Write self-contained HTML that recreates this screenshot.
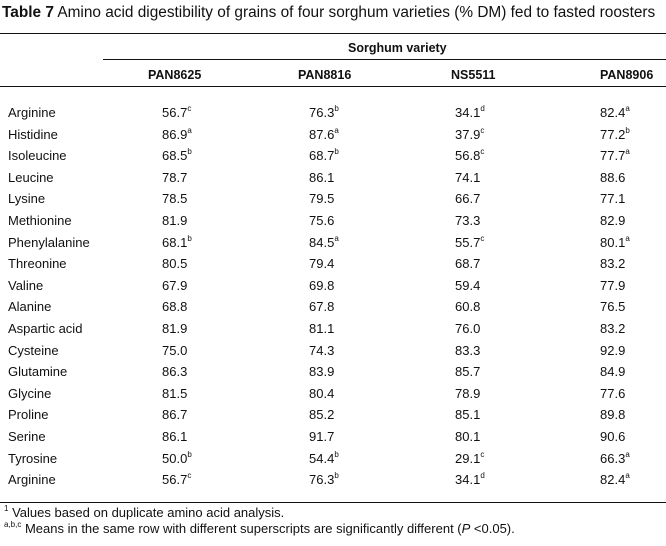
<!DOCTYPE html>
<html><head><style>
body{margin:0;width:666px;height:546px;background:#fff;position:relative;overflow:hidden;font-family:"Liberation Sans",Arial,sans-serif;color:#111}
.a{position:absolute;white-space:nowrap;font-size:13px;line-height:16px}
.b{font-weight:bold;font-size:12.5px}
.l{position:absolute;height:1.3px;background:#111}
sup{font-size:8px;line-height:0;vertical-align:6px}
</style></head><body>
<div class="a" style="left:2px;top:4px;font-size:15.4px;line-height:18px"><b>Table 7</b> Amino acid digestibility of grains of four sorghum varieties (% DM) fed to fasted roosters</div>
<div class="l" style="left:0;top:33px;width:666px"></div>
<div class="l" style="left:103px;top:59px;width:563px"></div>
<div class="l" style="left:0;top:86px;width:666px"></div>
<div class="l" style="left:0;top:502px;width:666px"></div>
<div class="a b" style="left:348px;top:40px">Sorghum variety</div>
<div class="a b" style="left:148px;top:67px">PAN8625</div>
<div class="a b" style="left:298px;top:67px">PAN8816</div>
<div class="a b" style="left:451px;top:67px">NS5511</div>
<div class="a b" style="left:600px;top:67px">PAN8906</div>
<div id="rows"></div>
<div class="a" style="left:4px;top:505px"><sup>1</sup> Values based on duplicate amino acid analysis.</div>
<div class="a" style="left:4px;top:521px"><sup>a,b,c</sup> Means in the same row with different superscripts are significantly different (<i>P</i> &lt;0.05).</div>
<script>
var d=[["Arginine","56.7<sup>c</sup>","76.3<sup>b</sup>","34.1<sup>d</sup>","82.4<sup>a</sup>"],
["Histidine","86.9<sup>a</sup>","87.6<sup>a</sup>","37.9<sup>c</sup>","77.2<sup>b</sup>"],
["Isoleucine","68.5<sup>b</sup>","68.7<sup>b</sup>","56.8<sup>c</sup>","77.7<sup>a</sup>"],
["Leucine","78.7","86.1","74.1","88.6"],["Lysine","78.5","79.5","66.7","77.1"],
["Methionine","81.9","75.6","73.3","82.9"],
["Phenylalanine","68.1<sup>b</sup>","84.5<sup>a</sup>","55.7<sup>c</sup>","80.1<sup>a</sup>"],
["Threonine","80.5","79.4","68.7","83.2"],["Valine","67.9","69.8","59.4","77.9"],
["Alanine","68.8","67.8","60.8","76.5"],["Aspartic acid","81.9","81.1","76.0","83.2"],
["Cysteine","75.0","74.3","83.3","92.9"],["Glutamine","86.3","83.9","85.7","84.9"],
["Glycine","81.5","80.4","78.9","77.6"],["Proline","86.7","85.2","85.1","89.8"],
["Serine","86.1","91.7","80.1","90.6"],
["Tyrosine","50.0<sup>b</sup>","54.4<sup>b</sup>","29.1<sup>c</sup>","66.3<sup>a</sup>"],
["Arginine","56.7<sup>c</sup>","76.3<sup>b</sup>","34.1<sup>d</sup>","82.4<sup>a</sup>"]];
var xs=[8,162,309,455,600],h="";
d.forEach(function(r,i){var t=105+i*21.6;r.forEach(function(c,j){h+='<div class="a" style="left:'+xs[j]+'px;top:'+t+'px">'+c+'</div>';});});
document.getElementById("rows").innerHTML=h;
</script>
</body></html>
